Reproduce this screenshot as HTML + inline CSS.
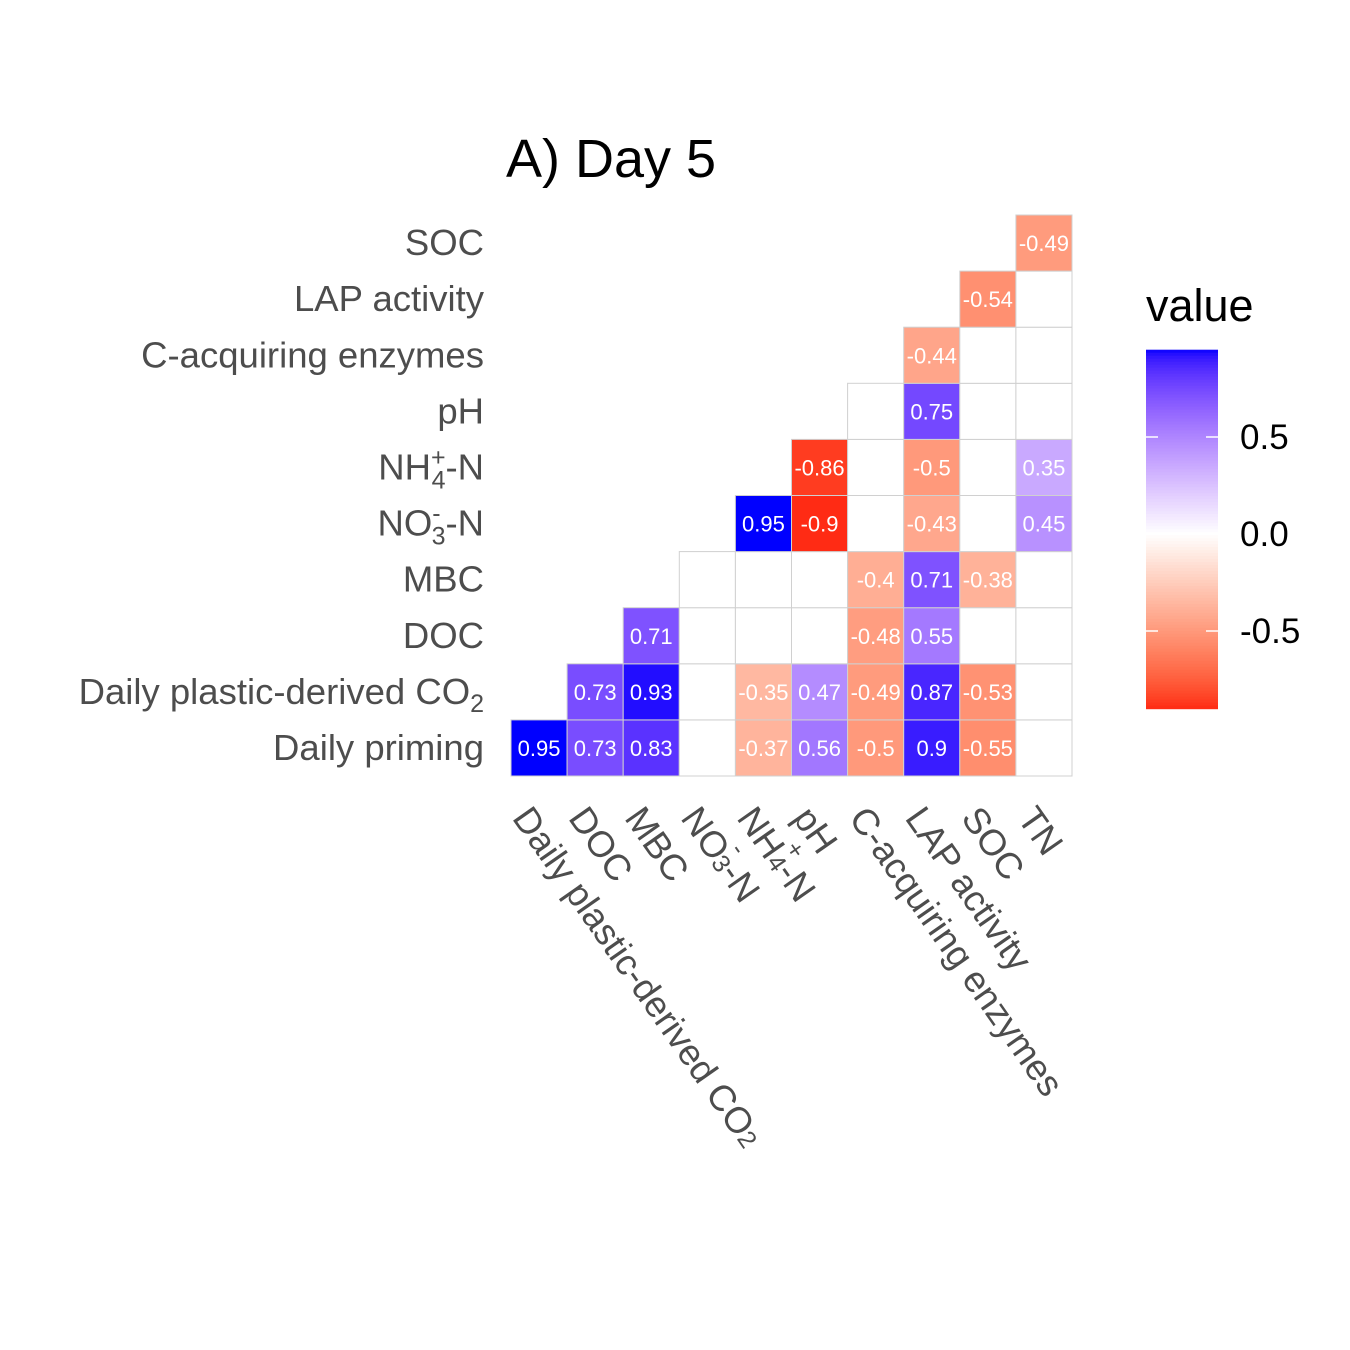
<!DOCTYPE html>
<html><head><meta charset="utf-8"><style>
html,body{margin:0;padding:0;background:#fff;}
svg{display:block;font-family:"Liberation Sans",Arial,sans-serif;}
</style></head><body>
<svg id="chart" width="1350" height="1350" viewBox="0 0 1350 1350">
<rect width="1350" height="1350" fill="#fff"/>
<text x="506" y="177" font-size="54" fill="#000">A) Day 5</text>
<g id="cells"></g>
<g id="ylabels" font-size="36.5" fill="#4d4d4d" text-anchor="end"></g>
<g id="xlabels" font-size="36.5" fill="#4d4d4d"></g>
<g id="legend"></g>
</svg>
<script>
const rowLabels = ["Daily priming","Daily plastic-derived CO2","DOC","MBC","NO3-N","NH4-N","pH","C-acquiring enzymes","LAP activity","SOC"];
const colLabels = ["Daily plastic-derived CO2","DOC","MBC","NO3-N","NH4-N","pH","C-acquiring enzymes","LAP activity","SOC","TN"];
const rowPriming = [0.95,0.73,0.83,null,-0.37,0.56,-0.5,0.9,-0.55,null];
const rowPlastic = [null,0.73,0.93,null,-0.35,0.47,-0.49,0.87,-0.53,null];
const rowDOC = [null,null,0.71,null,null,null,-0.48,0.55,null,null];
const rowMBC = [null,null,null,null,null,null,-0.4,0.71,-0.38,null];
const rowNO3 = [null,null,null,null,0.95,-0.9,null,-0.43,null,0.45];
const rowNH4 = [null,null,null,null,null,-0.86,null,-0.5,null,0.35];
const rowPH = [null,null,null,null,null,null,null,0.75,null,null];
const rowCacq = [null,null,null,null,null,null,null,-0.44,null,null];
const rowLAP = [null,null,null,null,null,null,null,null,-0.54,null];
const rowSOC = [null,null,null,null,null,null,null,null,null,-0.49];
const values = [rowPriming,rowPlastic,rowDOC,rowMBC,rowNO3,rowNH4,rowPH,rowCacq,rowLAP,rowSOC];
const legendTicks = [0.5,0.0,-0.5];
const legendTickLabels = ["0.5","0.0","-0.5"];

const NS="http://www.w3.org/2000/svg";
const x0=511,yBottom=776,cw=56.1,ch=56.1;
const xPos=c=>x0+c*cw;
const yPos=r=>yBottom-(r+1)*ch;

function toLin(c){c/=255;return c<=0.04045?c/12.92:Math.pow((c+0.055)/1.055,2.4);}
function fromLin(c){c=c<=0.0031308?12.92*c:1.055*Math.pow(c,1/2.4)-0.055;return Math.max(0,Math.min(255,Math.round(c*255)));}
function rgb2lab(r,g,b){r=toLin(r);g=toLin(g);b=toLin(b);
 let X=(0.4124*r+0.3576*g+0.1805*b)/0.95047,Y=0.2126*r+0.7152*g+0.0722*b,Z=(0.0193*r+0.1192*g+0.9505*b)/1.08883;
 const f=t=>t>0.008856?Math.cbrt(t):7.787*t+16/116;
 return [116*f(Y)-16,500*(f(X)-f(Y)),200*(f(Y)-f(Z))];}
function lab2rgb(L,a,b){const fy=(L+16)/116,fx=fy+a/500,fz=fy-b/200;
 const fi=t=>t*t*t>0.008856?t*t*t:(t-16/116)/7.787;
 const X=fi(fx)*0.95047,Y=fi(fy),Z=fi(fz)*1.08883;
 const r=3.2406*X-1.5372*Y-0.4986*Z,g=-0.9689*X+1.8758*Y+0.0415*Z,bb=0.0557*X-0.2040*Y+1.0570*Z;
 return `rgb(${fromLin(r)},${fromLin(g)},${fromLin(bb)})`;}
const LR=rgb2lab(255,0,0),LW=rgb2lab(255,255,255),LB=rgb2lab(0,0,255);
const allVals=values.flat().filter(v=>v!==null);
const vmax=Math.max(...allVals),vmin=Math.min(...allVals);
const maxAbs=Math.max(Math.abs(vmax),Math.abs(vmin));
function color(v){const t=v/maxAbs;const A=t<0?LR:LB;const k=Math.min(1,Math.abs(t));
 return lab2rgb(LW[0]+(A[0]-LW[0])*k,LW[1]+(A[1]-LW[1])*k,LW[2]+(A[2]-LW[2])*k);}

const cells=document.getElementById('cells');
values.forEach((row,r)=>{row.forEach((v,c)=>{
 if(c<r)return;
 const rect=document.createElementNS(NS,'rect');
 rect.setAttribute('x',xPos(c));rect.setAttribute('y',yPos(r));
 rect.setAttribute('width',cw);rect.setAttribute('height',ch);
 rect.setAttribute('fill',v===null?'#fff':color(v));
 rect.setAttribute('stroke','#d0d0d0');rect.setAttribute('stroke-width','1');
 
 
 cells.appendChild(rect);
 if(v!==null){
  const t=document.createElementNS(NS,'text');
  t.setAttribute('x',xPos(c)+cw/2);t.setAttribute('y',yPos(r)+ch/2+8);
  t.setAttribute('text-anchor','middle');t.setAttribute('font-size','22');t.setAttribute('fill','#fff');
  t.textContent=String(v);
  
  
  cells.appendChild(t);
 }
});});

function labelContent(el,lab){
 if(lab==="Daily plastic-derived CO2"){el.innerHTML='Daily plastic-derived CO<tspan font-size="25" dy="8">2</tspan>';}
 else if(lab==="NO3-N"){el.innerHTML='NO<tspan font-size="25" dy="-14">-</tspan><tspan font-size="25" dx="-9" dy="23">3</tspan><tspan dy="-9">-N</tspan>';}
 else if(lab==="NH4-N"){el.innerHTML='NH<tspan font-size="25" dy="-14">+</tspan><tspan font-size="25" dx="-14" dy="23">4</tspan><tspan dy="-9">-N</tspan>';}
 else el.textContent=lab;
}
const yl=document.getElementById('ylabels');
rowLabels.forEach((lab,r)=>{
 const t=document.createElementNS(NS,'text');
 t.setAttribute('x',484);t.setAttribute('y',yPos(r)+ch/2+12);
 labelContent(t,lab);
 
 
 yl.appendChild(t);
});
const xl=document.getElementById('xlabels');
colLabels.forEach((lab,c)=>{
 const t=document.createElementNS(NS,'text');
 const cx=xPos(c)+cw/2-6, cy=803;
 t.setAttribute('transform',`translate(${cx},${cy}) rotate(55)`);
 t.setAttribute('x',0);t.setAttribute('y',0);
 t.setAttribute('dominant-baseline','hanging');
 labelContent(t,lab);
 
 
 xl.appendChild(t);
});

const lg=document.getElementById('legend');
const lx=1146,lw=72,y0=534,ppu=194;
const lt=document.createElementNS(NS,'text');
lt.setAttribute('x',lx);lt.setAttribute('y',321);lt.setAttribute('font-size','45');lt.setAttribute('fill','#000');
lt.textContent='value';


lg.appendChild(lt);
const steps=120;
for(let i=0;i<steps;i++){
 const va=vmax-(vmax-vmin)*i/steps, vb=vmax-(vmax-vmin)*(i+1)/steps;
 const r=document.createElementNS(NS,'rect');
 r.setAttribute('x',lx);r.setAttribute('y',y0-va*ppu);
 r.setAttribute('width',lw);r.setAttribute('height',(va-vb)*ppu+0.6);
 r.setAttribute('fill',color((va+vb)/2));
 
 
 lg.appendChild(r);
}
legendTicks.forEach((v,i)=>{
 const y=y0-v*ppu;
 [[lx,lx+12],[lx+lw-12,lx+lw]].forEach(([a,b])=>{
  const l=document.createElementNS(NS,'line');
  l.setAttribute('x1',a);l.setAttribute('x2',b);l.setAttribute('y1',y);l.setAttribute('y2',y);
  l.setAttribute('stroke','#fff');l.setAttribute('stroke-width','1.5');
  
  
  lg.appendChild(l);
 });
 const t=document.createElementNS(NS,'text');
 t.setAttribute('x',1240);t.setAttribute('y',y+12);t.setAttribute('font-size','35');t.setAttribute('fill','#000');
 t.textContent=legendTickLabels[i];
 
 
 lg.appendChild(t);
});
</script>
</body></html>
